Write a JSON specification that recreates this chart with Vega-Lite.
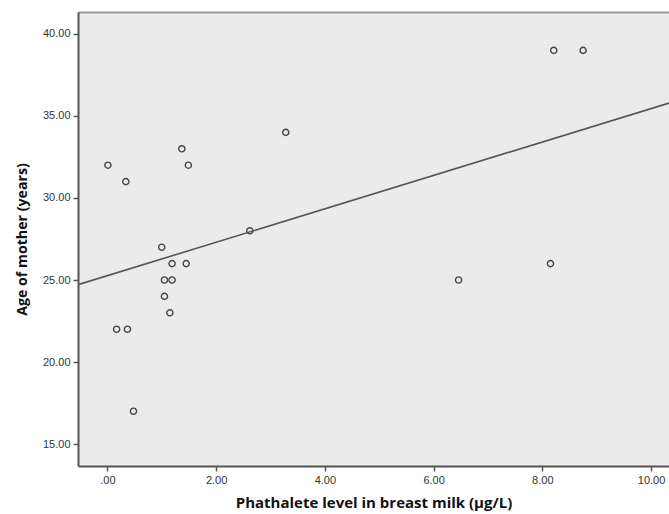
{
  "$schema": "https://vega.github.io/schema/vega-lite/v6.json",
  "autosize": "none",
  "width": 591,
  "height": 454,
  "padding": {"left": 78, "top": 12, "right": 0, "bottom": 48},
  "background": "white",
  "config": {
    "view": {"stroke": null, "fill": "#ebebeb"},
    "font": "Liberation Sans"
  },
  "data": {
    "values": [
      {"x": 0.01, "y": 32}, {"x": 0.34, "y": 31}, {"x": 1.37, "y": 33}, {"x": 1.49, "y": 32},
      {"x": 3.28, "y": 34}, {"x": 2.62, "y": 28}, {"x": 1.0, "y": 27}, {"x": 1.19, "y": 26},
      {"x": 1.45, "y": 26}, {"x": 1.05, "y": 25}, {"x": 1.19, "y": 25}, {"x": 1.05, "y": 24},
      {"x": 1.15, "y": 23}, {"x": 0.17, "y": 22}, {"x": 0.37, "y": 22}, {"x": 0.48, "y": 17},
      {"x": 8.21, "y": 39}, {"x": 8.75, "y": 39}, {"x": 8.15, "y": 26}, {"x": 6.46, "y": 25}
    ]
  },
  "resolve": {"axis": {"x": "independent"}},
  "layer": [
    {
      "mark": {"type": "point", "shape": "circle", "filled": false, "stroke": "#444", "strokeWidth": 1.4, "size": 38, "opacity": 1},
      "encoding": {
        "x": {
          "field": "x", "type": "quantitative",
          "scale": {"domain": [-0.54, 10.33], "nice": false, "zero": false},
          "axis": {
            "values": [0, 2, 4, 6, 8, 10],
            "labelExpr": "datum.value == 0 ? '.00' : format(datum.value, '.2f')",
            "grid": false, "domainColor": "#555", "domainWidth": 2,
            "tickColor": "#555", "tickSize": 5, "tickWidth": 1.5,
            "labelColor": "#333", "labelFontSize": 11, "labelPadding": 3,
            "title": "Phathalete level in breast milk (µg/L)",
            "titleFont": "Open Sans", "titleFontSize": 15, "titleFontWeight": "bold", "titleColor": "#111",
            "titlePadding": 10
          }
        },
        "y": {
          "field": "y", "type": "quantitative",
          "scale": {"domain": [13.66, 41.34], "nice": false, "zero": false},
          "axis": {
            "values": [15, 20, 25, 30, 35, 40],
            "format": ".2f",
            "grid": false, "domainColor": "#555", "domainWidth": 2,
            "tickColor": "#555", "tickSize": 5, "tickWidth": 1.5,
            "labelColor": "#333", "labelFontSize": 11, "labelPadding": 3,
            "title": "Age of mother (years)",
            "titleFont": "Open Sans", "titleFontSize": 14.2, "titleFontWeight": "bold", "titleColor": "#111",
            "titlePadding": 13
          }
        }
      }
    },
    {
      "transform": [{"regression": "y", "on": "x", "extent": [-0.54, 10.33]}],
      "mark": {"type": "line", "color": "#555", "strokeWidth": 1.6, "clip": true},
      "encoding": {
        "x": {
          "field": "x", "type": "quantitative",
          "axis": {"orient": "top", "labels": false, "ticks": false, "title": null, "grid": false, "domainColor": "#999", "domainWidth": 2}
        },
        "y": {"field": "y", "type": "quantitative"}
      }
    }
  ]
}
